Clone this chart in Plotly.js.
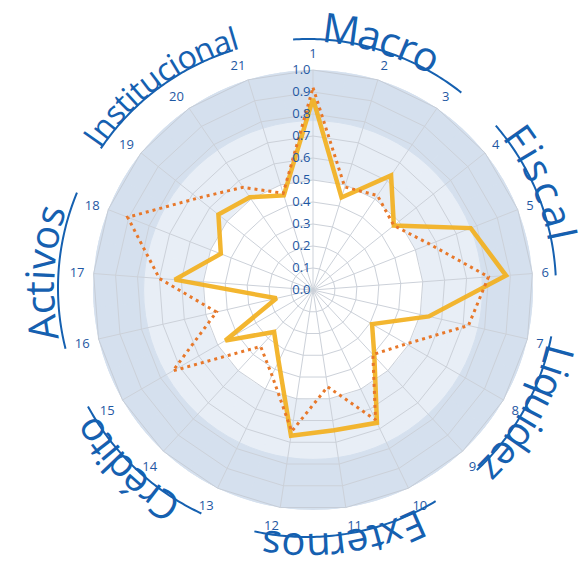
<!DOCTYPE html>
<html><head><meta charset="utf-8">
<script src="https://cdn.plot.ly/plotly-3.0.1.min.js"></script>
<style>html,body{margin:0;padding:0;background:#fff}#chart{width:580px;height:566px}</style>
</head><body><div id="chart"></div>
<script>
// ---- data ----
const categories = ['1','2','3','4','5','6','7','8','9','10','11','12','13','14','15','16','17','18','19','20','21'];
const seriesSolid  = [0.87,0.44,0.63,0.47,0.77,0.88,0.54,0.31,0.41,0.67,0.645,0.67,0.36,0.26,0.46,0.17,0.63,0.45,0.55,0.51,0.45];
const seriesDotted = [0.92,0.49,0.52,0.47,0.57,0.80,0.725,0.49,0.40,0.655,0.445,0.65,0.43,0.35,0.735,0.45,0.70,0.905,0.67,0.565,0.46];
const radialTicks = [0,0.1,0.2,0.3,0.4,0.5,0.6,0.7,0.8,0.9,1.0];
const groupNames = ['Macro','Fiscal','Liquidez','Externos','Crédito','Activos','Institucional'];

// ---- decoration layout (not data) ----
const W = 580, H = 566;
const CX = 313, CY = 290, RAD = 220;           // polar centre/radius in px
const ACX = 307, ACY = 288;                      // centre of group arcs
const arcR = 249;
const baseR    = [246,246,246,246,246,253,249];
const arcStart = [-3.2,49.3,101.2,148.9,205.1,255.9,304.1];
const arcEnd   = [38.3,87.1,137.0,192.2,241.6,292.5,342.7];
const txtStart = [3.5,52,103,153.5,210.5,258.5,304];
const txtEnd   = [30,79.5,136.5,190,239,288,344.5];
const txtSize  = [41,40,40,40,40,40,32];
const blue = '#1560b0';
const tickBlue = '#1f58a3';
const charW = {M:.888,a:.556,c:.476,r:.408,o:.604,F:.516,i:.253,s:.477,l:.253,L:.513,q:.613,u:.614,d:.613,e:.561,z:.477,
  E:.556,x:.513,t:.353,n:.614,C:.631,'é':.561,A:.633,v:.504,I:.293};

const closeLoop = a => a.concat([a[0]]);
const thetaClosed = closeLoop(categories);

const bandLight = categories.map(() => 0.27);
const bandDark = categories.map(() => 0.23);

const traces = [
  {type:'barpolar', subplot:'polar', theta:categories, r:bandLight, base:0.5, width:1,
   marker:{color:'#e8eef6', line:{color:'#e8eef6', width:1}}, hoverinfo:'skip', showlegend:false},
  {type:'barpolar', subplot:'polar', theta:categories, r:bandDark, base:0.77, width:1,
   marker:{color:'#d5e0ee', line:{color:'#d5e0ee', width:1}}, hoverinfo:'skip', showlegend:false},
  {type:'scatterpolar', subplot:'polar2', mode:'lines', theta:thetaClosed, r:closeLoop(seriesSolid),
   line:{color:'#f2b01e', width:4.5}, opacity:0.92, showlegend:false},
  {type:'scatterpolar', subplot:'polar2', mode:'lines', theta:thetaClosed, r:closeLoop(seriesDotted),
   line:{color:'#e8782a', width:3, dash:'3px,4px'}, showlegend:false}
];

const dom = {x:[(CX-RAD)/W,(CX+RAD)/W], y:[(H-CY-RAD)/H,(H-CY+RAD)/H]};
const angCommon = {type:'category', categoryarray:categories, direction:'clockwise', rotation:90};

const shapes = [];
const annotations = [];
const toPaper = (px,py) => [px/W, 1-py/H];
const rad = d => d*Math.PI/180;

groupNames.forEach((name,gi) => {
  let path = '';
  const n = 60;
  for (let k=0;k<=n;k++){
    const a = rad(arcStart[gi] + (arcEnd[gi]-arcStart[gi])*k/n);
    const [x,y] = toPaper(ACX + arcR*Math.sin(a), ACY - arcR*Math.cos(a));
    path += (k===0?'M':'L') + x.toFixed(5) + ',' + y.toFixed(5);
  }
  shapes.push({type:'path', xref:'paper', yref:'paper', path:path, line:{color:blue, width:2}});
  const chars = Array.from(name);
  const widths = chars.map(c => charW[c] || 0.55);
  const total = widths.reduce((s,v)=>s+v,0);
  const fs = txtSize[gi];
  let cum = 0;
  chars.forEach((ch,ci) => {
    const frac = (cum + widths[ci]/2)/total;
    cum += widths[ci];
    const ang = txtStart[gi] + (txtEnd[gi]-txtStart[gi])*frac;
    const rc = baseR[gi] + 0.388*fs;
    const [x,y] = toPaper(ACX + rc*Math.sin(rad(ang)), ACY - rc*Math.cos(rad(ang)));
    let ta = ang; if (ta>180) ta -= 360;
    annotations.push({xref:'paper', yref:'paper', x:x, y:y, xanchor:'center', yanchor:'middle',
      text:ch, showarrow:false, textangle:ta, borderpad:0,
      font:{family:'Open Sans', size:fs, color:blue}});
  });
});

const layout = {
  width:W, height:H, autosize:false,
  margin:{l:0,r:0,t:0,b:0},
  paper_bgcolor:'#ffffff',
  font:{family:'Open Sans', color:tickBlue},
  showlegend:false,
  polar:{domain:dom, bgcolor:'rgba(0,0,0,0)', gridshape:'circular', bargap:0,
    radialaxis:{range:[0,1], visible:false},
    angularaxis:Object.assign({visible:false}, angCommon)},
  polar2:{domain:dom, bgcolor:'rgba(0,0,0,0)', gridshape:'linear',
    radialaxis:{range:[0,1], tickvals:radialTicks, tickformat:'.1f', ticksuffix:'\u2002', angle:90, tickangle:90,
      side:'counterclockwise', showline:false, ticks:'', gridcolor:'#ccd1d9', gridwidth:1,
      tickfont:{size:13, color:tickBlue}},
    angularaxis:Object.assign({gridcolor:'#ccd1d9', showline:true, linecolor:'#c6cdd7', linewidth:1,
      ticks:'outside', ticklen:6, tickcolor:'rgba(0,0,0,0)', tickfont:{size:13, color:tickBlue}}, angCommon)},
  shapes:shapes,
  annotations:annotations
};

Plotly.newPlot('chart', traces, layout, {displayModeBar:false, staticPlot:true});
</script>
</body></html>
